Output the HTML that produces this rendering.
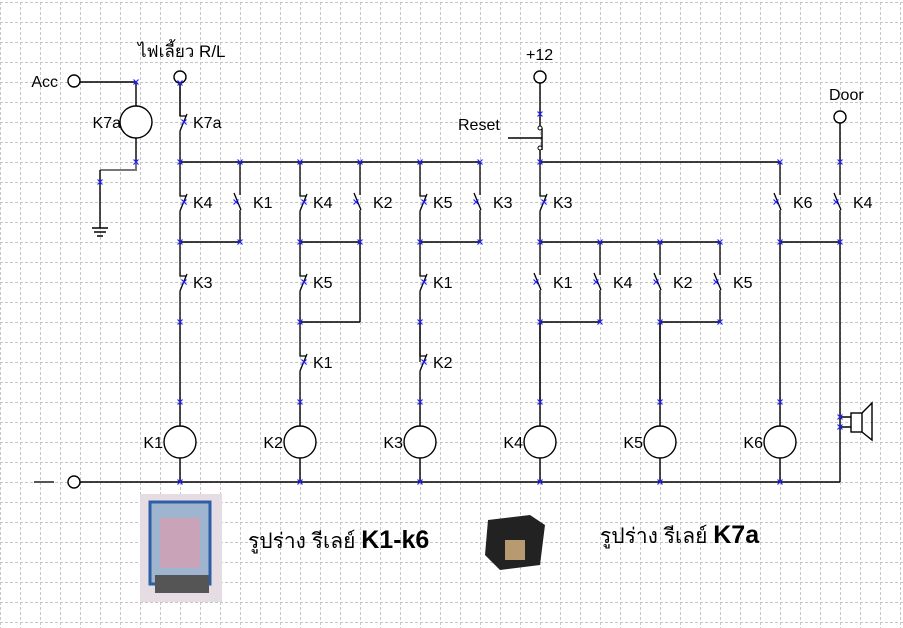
<!DOCTYPE html>
<html><head><meta charset="utf-8"><style>
html,body{margin:0;padding:0;background:#fff;}
svg{display:block;}
text{font-family:"Liberation Sans","Noto Sans CJK SC",sans-serif;font-size:16px;fill:#000;}
.r{text-anchor:end;}
</style></head><body>
<svg width="903" height="628" viewBox="0 0 903 628" xmlns="http://www.w3.org/2000/svg">
<defs>
<pattern id="g" x="0" y="2" width="20" height="20" patternUnits="userSpaceOnUse">
<path d="M0,0.5H20M0.5,0V20" stroke="#c6c6c6" stroke-width="1" stroke-dasharray="3,2" fill="none"/>
</pattern>
<g id="x"><path d="M-2.5,-2.5L2.5,2.5M-2.5,2.5L2.5,-2.5" stroke="#2020ff" stroke-width="1.2"/></g>
<g id="nc"><path d="M0,-40V-6H6M7,-8L0,9V40" stroke="#000" stroke-width="1.3" fill="none"/><use href="#x" x="4" y="0"/></g>
<g id="no"><path d="M0,-40V-7M-6,-9L1,8M0,8V40" stroke="#000" stroke-width="1.3" fill="none"/><use href="#x" x="-4" y="0"/></g>
</defs>
<rect width="903" height="628" fill="#fff"/>
<rect width="903" height="628" fill="url(#g)"/>

<g stroke="#000" stroke-width="1.4" fill="none">
<circle cx="74" cy="81" r="6" fill="#fff"/>
<path d="M80,82H136V106M136,138V162"/>
<circle cx="136" cy="122" r="16" fill="#fff"/>
<path d="M136,162V170H100" stroke="#777" stroke-width="2"/>
<path d="M100,170V228M92,228H108M94,232H106M97,236H103"/>
<circle cx="180" cy="77" r="6" fill="#fff"/>
<path d="M180,162H480M180,242H240M300,242H360M420,242H480M300,322H360M360,242V322"/>
<path d="M540,162H780M540,242H720M540,322H600M660,322H720M780,242H840"/>
<path d="M80,482H840"/>
<circle cx="74" cy="482" r="6" fill="#fff"/>
<path d="M34,482H54" stroke="#555" stroke-width="2"/>
<path d="M180,322V426M180,458V482M300,402V426M300,458V482M420,402V426M420,458V482M540,322V426M540,458V482M660,322V426M660,458V482M780,242V426M780,458V482"/>
<circle cx="180" cy="442" r="16" fill="#fff"/>
<circle cx="300" cy="442" r="16" fill="#fff"/>
<circle cx="420" cy="442" r="16" fill="#fff"/>
<circle cx="540" cy="442" r="16" fill="#fff"/>
<circle cx="660" cy="442" r="16" fill="#fff"/>
<circle cx="780" cy="442" r="16" fill="#fff"/>
<circle cx="540" cy="77" r="6" fill="#fff"/>
<path d="M540,83V126M540,150V162M542,128V150M508,138H542"/>
<circle cx="540" cy="128" r="2" fill="#fff" stroke-width="1"/>
<circle cx="540" cy="148" r="2" fill="#fff" stroke-width="1"/>
<circle cx="840" cy="117" r="6" fill="#fff"/>
<path d="M840,123V162M840,242V482M840,417H851M840,427H851"/>
<rect x="851" y="413" width="11" height="19" fill="#fff"/>
<path d="M862,413L872,403V440L862,432"/>
</g>

<use href="#nc" x="180" y="122"/>
<use href="#nc" x="180" y="202"/>
<use href="#no" x="240" y="202"/>
<use href="#nc" x="300" y="202"/>
<use href="#no" x="360" y="202"/>
<use href="#nc" x="420" y="202"/>
<use href="#no" x="480" y="202"/>
<use href="#nc" x="180" y="282"/>
<use href="#nc" x="300" y="282"/>
<use href="#nc" x="420" y="282"/>
<use href="#nc" x="300" y="362"/>
<use href="#nc" x="420" y="362"/>
<use href="#nc" x="540" y="202"/>
<use href="#no" x="780" y="202"/>
<use href="#no" x="840" y="202"/>
<use href="#no" x="540" y="282"/>
<use href="#no" x="600" y="282"/>
<use href="#no" x="660" y="282"/>
<use href="#no" x="720" y="282"/>
<path d="M180,83V116M420,322V362M540,322V402M660,322V402" stroke="#000" stroke-width="1.3"/>

<g>
<use href="#x" x="136" y="82"/><use href="#x" x="136" y="162"/><use href="#x" x="100" y="182"/>
<use href="#x" x="180" y="83"/><use href="#x" x="180" y="162"/><use href="#x" x="240" y="162"/><use href="#x" x="300" y="162"/><use href="#x" x="360" y="162"/><use href="#x" x="420" y="162"/><use href="#x" x="480" y="162"/>
<use href="#x" x="180" y="242"/><use href="#x" x="240" y="242"/><use href="#x" x="300" y="242"/><use href="#x" x="360" y="242"/><use href="#x" x="420" y="242"/><use href="#x" x="480" y="242"/>
<use href="#x" x="180" y="322"/><use href="#x" x="300" y="322"/><use href="#x" x="420" y="322"/>
<use href="#x" x="180" y="402"/><use href="#x" x="300" y="402"/><use href="#x" x="420" y="402"/><use href="#x" x="540" y="402"/><use href="#x" x="660" y="402"/><use href="#x" x="780" y="402"/>
<use href="#x" x="180" y="482"/><use href="#x" x="300" y="482"/><use href="#x" x="420" y="482"/><use href="#x" x="540" y="482"/><use href="#x" x="660" y="482"/><use href="#x" x="780" y="482"/>
<use href="#x" x="540" y="114"/><use href="#x" x="540" y="162"/><use href="#x" x="780" y="162"/><use href="#x" x="840" y="162"/>
<use href="#x" x="540" y="242"/><use href="#x" x="600" y="242"/><use href="#x" x="660" y="242"/><use href="#x" x="720" y="242"/><use href="#x" x="780" y="242"/><use href="#x" x="840" y="242"/>
<use href="#x" x="540" y="322"/><use href="#x" x="600" y="322"/><use href="#x" x="660" y="322"/><use href="#x" x="720" y="322"/>
<use href="#x" x="840" y="417"/><use href="#x" x="840" y="427"/>
</g>

<text class="r" x="58" y="87">Acc</text>
<text class="r" x="121" y="128">K7a</text>
<text x="138" y="57" style="font-size:17px">ไฟเลี้ยว R/L</text>
<text x="193" y="128">K7a</text>
<text x="193" y="208">K4</text><text x="253" y="208">K1</text>
<text x="313" y="208">K4</text><text x="373" y="208">K2</text>
<text x="433" y="208">K5</text><text x="493" y="208">K3</text>
<text x="193" y="288">K3</text><text x="313" y="288">K5</text><text x="433" y="288">K1</text>
<text x="313" y="368">K1</text><text x="433" y="368">K2</text>
<text class="r" x="163" y="448">K1</text><text class="r" x="283" y="448">K2</text><text class="r" x="403" y="448">K3</text>
<text class="r" x="523" y="448">K4</text><text class="r" x="643" y="448">K5</text><text class="r" x="763" y="448">K6</text>
<text x="526" y="60">+12</text>
<text x="458" y="130">Reset</text>
<text x="829" y="100">Door</text>
<text x="553" y="208">K3</text>
<text x="793" y="208">K6</text><text x="853" y="208">K4</text>
<text x="553" y="288">K1</text><text x="613" y="288">K4</text><text x="673" y="288">K2</text><text x="733" y="288">K5</text>

<rect x="140" y="494" width="82" height="108" fill="#e6dde4"/>
<rect x="150" y="502" width="60" height="82" fill="#9fb4cf" stroke="#2e5fa6" stroke-width="3"/>
<rect x="160" y="518" width="40" height="50" fill="#c9a3b8"/>
<rect x="155" y="575" width="54" height="18" fill="#555"/>
<path d="M488,520L530,515L545,525L540,565L500,570L485,555Z" fill="#222"/>
<rect x="505" y="540" width="20" height="20" fill="#b89a70"/>

<text x="248" y="548" style="font-size:21px">รูปร่าง รีเลย์ <tspan style="font-size:25px;font-weight:bold">K1-k6</tspan></text>
<text x="600" y="543" style="font-size:21px">รูปร่าง รีเลย์ <tspan style="font-size:25px;font-weight:bold">K7a</tspan></text>
</svg>
</body></html>
